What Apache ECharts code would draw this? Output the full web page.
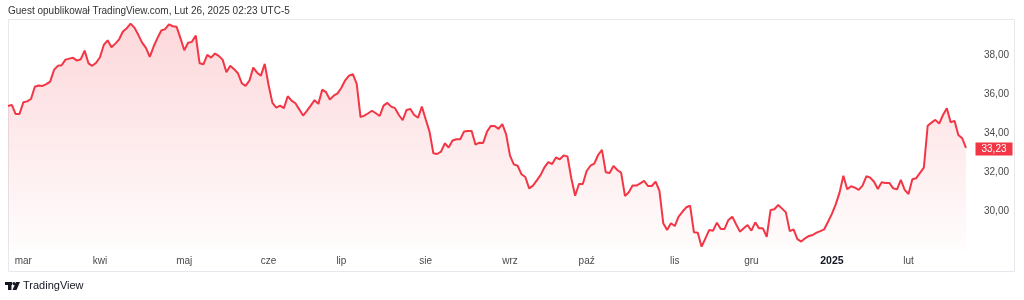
<!DOCTYPE html>
<html>
<head>
<meta charset="utf-8">
<script src="https://cdn.jsdelivr.net/npm/echarts@6/dist/echarts.min.js"></script>
<style>
html,body{margin:0;padding:0;background:#fff;}
#chart{width:1024px;height:300px;}
</style>
</head>
<body>
<div id="chart"></div>
<script>
// ---- data ----
const startDate = '2024-02-26';
const endDate = '2025-02-25';
const holidays = ['2024-03-29','2024-05-27','2024-06-19','2024-07-04','2024-09-02','2024-11-28','2024-12-25','2025-01-01','2025-01-09','2025-01-20','2025-02-17'];
const monthNames = ['sty','lut','mar','kwi','maj','cze','lip','sie','wrz','paź','lis','gru'];
const yTicks = [30, 32, 34, 36, 38];
const titleText = 'Guest opublikował TradingView.com, Lut 26, 2025 02:23 UTC-5';

const prices = [
35.38,35.44,34.97,34.97,35.57,35.62,35.74,36.37,36.43,36.41,
36.50,36.63,37.23,37.44,37.47,37.76,37.81,37.85,37.71,37.78,
38.22,37.57,37.44,37.60,37.88,38.51,38.75,38.39,38.58,38.80,
39.20,39.37,39.60,39.40,39.03,38.63,38.36,37.90,38.43,38.86,
39.25,39.32,39.57,39.47,39.44,38.86,38.24,38.62,38.67,38.99,
37.57,37.52,38.00,37.86,38.07,37.95,37.76,37.11,37.45,37.27,
37.06,36.55,36.41,36.68,37.35,37.09,36.94,37.54,36.46,35.54,
35.30,35.40,35.27,35.88,35.66,35.52,35.21,34.89,35.13,35.40,
35.68,35.49,36.22,36.09,35.71,35.91,36.03,36.32,36.70,36.94,
37.01,36.51,34.81,34.89,35.01,35.14,35.01,34.87,35.40,35.54,
35.35,35.27,34.92,34.65,35.18,35.23,34.92,34.78,35.35,34.70,
34.07,32.96,32.92,33.04,33.47,33.25,33.61,33.68,33.68,34.07,
34.10,34.10,33.40,33.50,33.49,34.07,34.36,34.36,34.21,34.45,
33.93,32.84,32.39,32.32,31.88,31.74,31.16,31.30,31.57,31.85,
32.24,32.50,32.41,32.74,32.65,32.84,32.80,31.68,30.78,31.38,
31.38,32.05,32.32,32.43,32.87,33.13,31.98,31.95,32.31,32.10,
31.97,30.77,30.96,31.30,31.30,31.42,31.54,31.28,31.28,31.50,
31.03,29.37,29.03,29.37,29.23,29.71,29.96,30.19,30.27,28.91,
28.89,28.17,28.60,29.03,28.99,29.40,29.08,29.08,29.54,29.71,
29.32,28.94,29.11,29.28,28.99,29.42,29.11,29.11,28.68,30.05,
30.09,30.31,30.12,29.93,28.97,29.06,28.56,28.43,28.60,28.72,
28.77,28.89,28.97,29.06,29.45,29.85,30.34,30.94,31.81,31.11,
31.27,31.20,31.08,31.30,31.78,31.71,31.50,31.13,31.47,31.44,
31.44,31.16,31.11,31.59,31.08,30.87,31.63,31.68,31.95,32.22,
34.37,34.53,34.67,34.48,34.92,35.27,34.55,34.62,33.90,33.73,
33.23
];

// ---- trading-day categories ----
function buildDates(){
  const out = [];
  const d = new Date(startDate + 'T00:00:00Z');
  const end = new Date(endDate + 'T00:00:00Z');
  while (d <= end) {
    const s = d.toISOString().slice(0,10);
    const wd = d.getUTCDay();
    if (wd !== 0 && wd !== 6 && holidays.indexOf(s) < 0) out.push(s);
    d.setUTCDate(d.getUTCDate() + 1);
  }
  return out;
}
const categories = buildDates();
const isMonthStart = categories.map((c, i) => i > 0 && c.slice(5,7) !== categories[i-1].slice(5,7));

const fmt = v => v.toFixed(2).replace('.', ',');
const lastPrice = prices[prices.length - 1];

const chart = echarts.init(document.getElementById('chart'), null, {renderer: 'canvas'});
const FONT = '"Liberation Sans", Arial, sans-serif';

chart.setOption({
  animation: false,
  backgroundColor: '#ffffff',
  textStyle: {fontFamily: FONT},
  grid: {left: 8, right: 58, top: 20, bottom: 50},
  xAxis: {
    type: 'category',
    data: categories,
    boundaryGap: false,
    axisLine: {show: false},
    axisTick: {show: false},
    splitLine: {show: false},
    axisLabel: {
      interval: (idx) => isMonthStart[idx],
      margin: 6,
      color: '#4a4a4a',
      fontSize: 10,
      fontFamily: FONT,
      formatter: (val) => {
        const m = parseInt(val.slice(5,7), 10) - 1;
        if (m === 0) return '{b|' + val.slice(0,4) + '}';
        return monthNames[m];
      },
      rich: {b: {fontWeight: 'bold', color: '#131722', fontSize: 10.5, fontFamily: FONT}}
    }
  },
  yAxis: {
    type: 'value',
    position: 'right',
    min: 28,
    max: 39.79,
    interval: 2,
    axisLine: {show: false},
    axisTick: {show: false},
    splitLine: {show: false},
    axisLabel: {
      showMinLabel: false,
      showMaxLabel: false,
      margin: 18,
      color: '#4a4a4a',
      fontSize: 10,
      fontFamily: FONT,
      formatter: v => (yTicks.indexOf(v) >= 0 ? fmt(v) : '')
    }
  },
  series: [{
    type: 'line',
    data: prices,
    symbol: 'none',
    smooth: false,
    lineStyle: {color: '#f23645', width: 2},
    areaStyle: {
      color: new echarts.graphic.LinearGradient(0, 0, 0, 1, [
        {offset: 0, color: 'rgba(242,54,69,0.28)'},
        {offset: 1, color: 'rgba(242,54,69,0.02)'}
      ])
    },
    markPoint: {
      symbol: 'rect',
      symbolSize: [37, 13],
      symbolOffset: [28, 1],
      silent: true,
      itemStyle: {color: '#f23645'},
      label: {show: true, position: 'inside', color: '#ffffff', fontSize: 10, fontFamily: FONT, formatter: fmt(lastPrice)},
      data: [{coord: [categories[categories.length - 1], lastPrice], value: lastPrice}]
    }
  }],
  graphic: [
    {type: 'rect', shape: {x: 8.5, y: 19.5, width: 1006, height: 252}, style: {fill: null, stroke: '#e6e8ee', lineWidth: 1}, silent: true},
    {type: 'text', left: 8, top: 6, style: {text: titleText, fill: '#333333', font: '10px ' + FONT}},
    {type: 'group', left: 5, top: 282, children: [
      {type: 'rect', shape: {x: 0, y: 0, width: 7, height: 3}, style: {fill: '#131722'}},
      {type: 'rect', shape: {x: 3, y: 0, width: 3.5, height: 8}, style: {fill: '#131722'}},
      {type: 'circle', shape: {cx: 9, cy: 1.6, r: 1.6}, style: {fill: '#131722'}},
      {type: 'polygon', shape: {points: [[11, 0], [15, 0], [11.5, 8], [7.5, 8]]}, style: {fill: '#131722'}}
    ]},
    {type: 'text', left: 23, top: 280, style: {text: 'TradingView', fill: '#131722', font: '11px ' + FONT}}
  ]
});
</script>
</body>
</html>
